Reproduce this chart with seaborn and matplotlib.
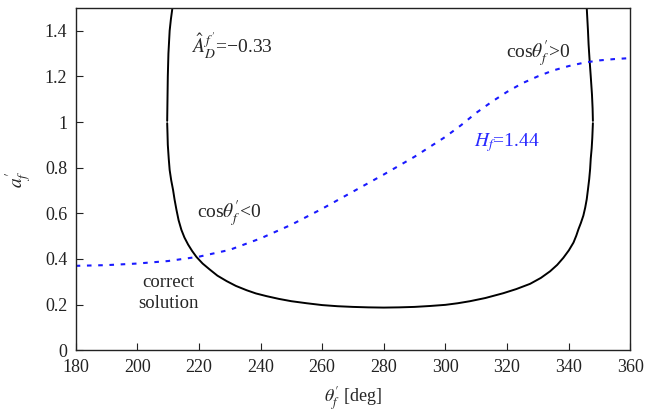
import numpy as np
import pandas as pd
import matplotlib
matplotlib.use('Agg')
import matplotlib.pyplot as plt
import seaborn as sb

# Данные, снятые с картинки
# чёрная кривая: левая ветвь (выше a'=1), нижняя часть, правая ветвь (выше a'=1)
theta_left = [211.4, 210.9, 210.5, 210.1, 209.9, 209.7]
a_left = [1.5, 1.45, 1.4, 1.3, 1.2, 1.005]

theta_mid = [209.7, 209.8, 209.9, 210.2, 210.5, 211.0, 211.6, 212.1, 212.7, 213.4, 214.3, 215.3,
             216.5, 217.8, 219.2, 221.2, 223.5, 226.0, 229.0, 232.0, 235.5, 238.5, 242.0, 246.0,
             250.0, 255.0, 260.0, 265.0, 270.0, 275.0, 280.0, 285.0, 290.0, 295.0, 300.0, 304.0,
             308.0, 313.0, 318.8, 323.0, 327.5, 331.0, 334.0, 336.3, 338.3, 340.1, 341.6, 342.5,
             343.2, 344.0, 344.8, 345.4, 345.9, 346.3, 346.7, 347.0, 347.2, 347.5, 347.7, 347.9]
a_mid = [0.995, 0.95, 0.9, 0.84, 0.79, 0.745, 0.703, 0.66, 0.616, 0.57, 0.528, 0.494,
         0.463, 0.435, 0.409, 0.38, 0.354, 0.327, 0.303, 0.282, 0.263, 0.249, 0.237, 0.225,
         0.215, 0.206, 0.198, 0.193, 0.19, 0.188, 0.187, 0.188, 0.19, 0.194, 0.199, 0.206,
         0.215, 0.229, 0.25, 0.268, 0.291, 0.317, 0.346, 0.374, 0.405, 0.438, 0.472, 0.502,
         0.53, 0.558, 0.59, 0.625, 0.662, 0.705, 0.75, 0.795, 0.84, 0.885, 0.93, 0.995]

theta_right = [347.9, 347.8, 347.6, 347.2, 346.8, 346.5, 346.3, 345.9]
a_right = [1.005, 1.06, 1.12, 1.2, 1.276, 1.34, 1.4, 1.5]

# синяя пунктирная кривая H_f = 1.44
theta_h = [180, 190, 200, 210, 220, 230, 240, 250, 260, 270, 280, 290, 300, 305, 310, 315, 320,
           325, 330, 335, 340, 345, 350, 355, 360]
a_h = [0.37, 0.373, 0.38, 0.391, 0.41, 0.44, 0.49, 0.55, 0.62, 0.695, 0.77, 0.848, 0.935, 0.985,
       1.04, 1.088, 1.132, 1.17, 1.2, 1.226, 1.245, 1.26, 1.27, 1.276, 1.28]

x_ticks = [180, 200, 220, 240, 260, 280, 300, 320, 340, 360]
y_ticks = [0, 0.2, 0.4, 0.6, 0.8, 1.0, 1.2, 1.4]
y_labels = ['0', '0.2', '0.4', '0.6', '0.8', '1', '1.2', '1.4']

sb.set_style('white')
plt.rcParams['font.family'] = ['Liberation Serif', 'DejaVu Serif']
plt.rcParams['mathtext.fontset'] = 'stix'

fig, ax = plt.subplots(figsize=(6.47, 4.16), dpi=100)
fig.subplots_adjust(left=0.117, right=0.974, top=0.981, bottom=0.158)

for th, a in [(theta_left, a_left), (theta_mid, a_mid), (theta_right, a_right)]:
    df = pd.DataFrame({'theta': th, 'a': a})
    sb.lineplot(data=df, x='theta', y='a', sort=False, color='black', lw=1.4, ax=ax)

df_h = pd.DataFrame({'theta': theta_h, 'a': a_h})
sb.lineplot(data=df_h, x='theta', y='a', color='#1a1aff', lw=1.5, linestyle=(0, (2.2, 3.2)), ax=ax)

ax.set_xlim(180, 360)
ax.set_ylim(0, 1.5)
ax.set_xticks(x_ticks)
ax.set_yticks(y_ticks)
ax.set_yticklabels(y_labels)
ax.tick_params(bottom=True, left=True, direction='in', length=5, width=0.8,
               labelsize=13, colors='#222222', pad=6)
for s in ax.spines.values():
    s.set_color('#222222')
    s.set_linewidth(1.0)

ax.set_xlabel(r"$\theta_f^{\prime}$ [deg]", fontsize=13, labelpad=7)
ax.set_ylabel(r"$a_f^{\prime}$", fontsize=14, labelpad=8)

ax.text(217.5, 1.33, r"$\hat{A}_D^{\,f^{\prime}}$=−0.33", fontsize=14, va='center', ha='left')
ax.text(330, 1.30, r"cos$\theta_f^{\prime}$>0", fontsize=14, va='center', ha='center')
ax.text(320, 0.91, r"$H_f$=1.44", fontsize=14, va='center', ha='center', color='#2a2aff')
ax.text(230, 0.60, r"cos$\theta_f^{\prime}$<0", fontsize=14, va='center', ha='center')
ax.text(210, 0.25, "correct\nsolution", fontsize=13.5, va='center', ha='center', linespacing=1.3)

plt.savefig('out.png', dpi=100)
